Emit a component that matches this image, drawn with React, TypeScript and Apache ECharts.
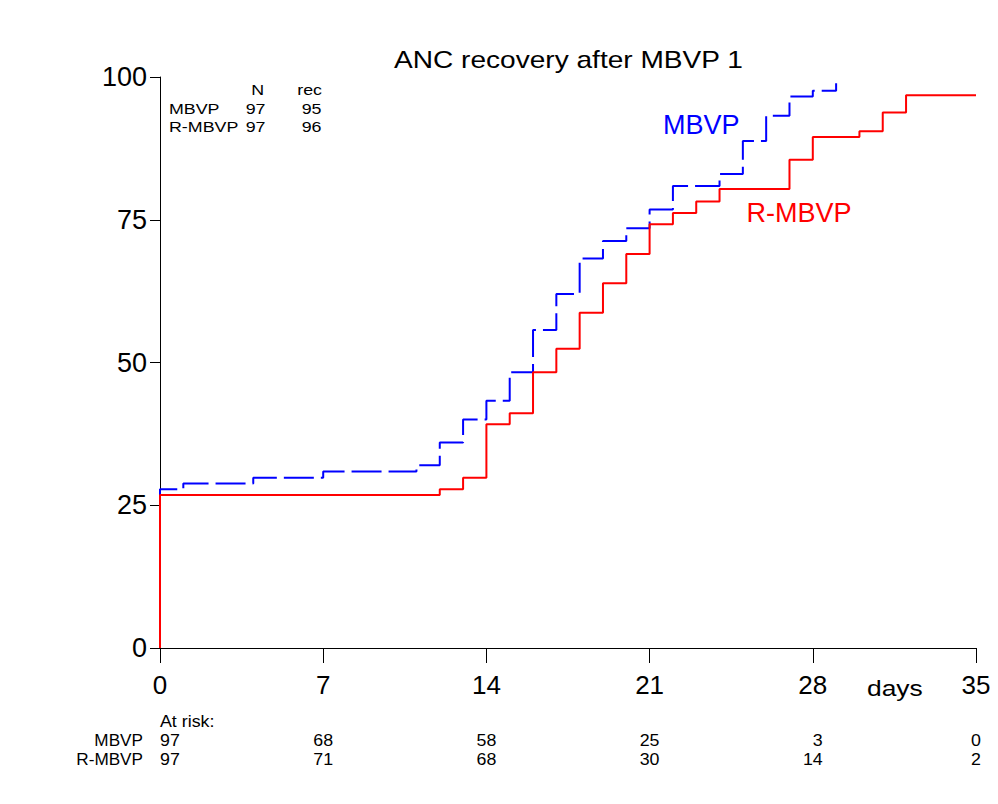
import React, { useEffect, useRef } from "react";
import * as echarts from "echarts";

// MBVP (blue, dashed) Kaplan-Meier style cumulative recovery (%)
const mbvpTimes = [0, 0, 1, 4, 7, 11, 12, 13, 14, 15, 16, 17, 18, 19, 20, 21, 22, 24, 25, 26, 27, 28, 29];
const mbvpValues = [0, 27.8, 28.8, 29.8, 30.9, 32.0, 36.0, 40.0, 43.3, 48.3, 55.7, 62.0, 68.2, 71.3, 73.5, 76.8, 80.9, 83.0, 88.8, 93.2, 96.6, 97.6, 98.9];

// R-MBVP (red, solid)
const rmbvpTimes = [0, 0, 12, 13, 14, 15, 16, 17, 18, 19, 20, 21, 22, 23, 24, 27, 28, 30, 31, 32, 35];
const rmbvpValues = [0, 26.8, 27.8, 29.8, 39.2, 41.1, 48.3, 52.4, 58.7, 63.9, 69.0, 74.2, 76.2, 78.2, 80.4, 85.5, 89.5, 90.5, 93.8, 96.8, 96.8];

// Tick definitions
const xTicks = [0, 7, 14, 21, 28, 35];
const yTicks = [0, 25, 50, 75, 100];

// Summary table (N, recovered)
const groups = ["MBVP", "R-MBVP"];
const groupN = [97, 97];
const groupRec = [95, 96];

// Number at risk
const atRiskDays = [0, 7, 14, 21, 28, 35];
const mbvpAtRisk = [97, 68, 58, 25, 3, 0];
const rmbvpAtRisk = [97, 71, 68, 30, 14, 2];

const FONT = "'Liberation Sans', Arial, Helvetica, sans-serif";
const BLUE = "#0000ff";
const RED = "#ff0000";

function txt(text: string, x: number, y: number, size: number, align: string, color = "#000", scaleX = 1) {
  return {
    type: "text",
    x,
    y,
    scaleX,
    silent: true,
    style: {
      text,
      fill: color,
      fontSize: size,
      fontFamily: FONT,
      align,
      verticalAlign: "middle",
      textAlign: align,
      textVerticalAlign: "middle",
    },
  };
}

export default function App() {
  const ref = useRef<HTMLDivElement>(null);

  useEffect(() => {
    if (!ref.current) return;
    const chart = echarts.init(ref.current, undefined, { renderer: "svg" });
    const zip = (t: number[], v: number[]) => t.map((d, i) => [d, v[i]]);

    chart.setOption({
      animation: false,
      backgroundColor: "#ffffff",
      grid: { left: 160, right: 22, top: 77, bottom: 156, containLabel: false, outerBoundsMode: "none" },
      xAxis: {
        type: "value",
        min: xTicks[0],
        max: xTicks[xTicks.length - 1],
        interval: 7,
        axisLine: { show: true, onZero: false, lineStyle: { color: "#000", width: 1 } },
        axisTick: { show: true, length: 15, lineStyle: { color: "#000", width: 1 } },
        axisLabel: { color: "#000", fontSize: 26, fontFamily: FONT, margin: 24, showMinLabel: true, showMaxLabel: true },
        splitLine: { show: false },
      },
      yAxis: {
        type: "value",
        min: yTicks[0],
        max: yTicks[yTicks.length - 1],
        interval: 25,
        axisLine: { show: true, onZero: false, lineStyle: { color: "#000", width: 1 } },
        axisTick: { show: true, length: 10, lineStyle: { color: "#000", width: 1 } },
        axisLabel: { color: "#000", fontSize: 27, fontFamily: FONT, margin: 13 },
        splitLine: { show: false },
      },
      series: [
        {
          name: "MBVP",
          type: "line",
          step: "end",
          data: zip(mbvpTimes, mbvpValues),
          symbol: "none",
          showSymbol: false,
          clip: false,
          z: 2,
          lineStyle: { color: BLUE, width: 2, type: [30, 7], dashOffset: 2 },
        },
        {
          name: "R-MBVP",
          type: "line",
          step: "end",
          data: zip(rmbvpTimes, rmbvpValues),
          symbol: "none",
          showSymbol: false,
          clip: false,
          z: 3,
          lineStyle: { color: RED, width: 2, type: "solid" },
        },
      ],
    });

    const fsRisk = 16.5;
    const digitW = 0.556 * fsRisk;
    const riskY0 = 721;
    const riskRows = [mbvpAtRisk, rmbvpAtRisk];
    const riskRowY = [740.5, 759.5];
    const graphics: any[] = [];

    graphics.push(txt("ANC recovery after MBVP 1", 394, 60, 24, "left", "#000", 1.17));
    graphics.push(txt("days", 867, 688, 22, "left", "#000", 1.2));

    // summary table
    const tScale = 1.15;
    graphics.push(txt("N", 264, 90, 15.5, "right", "#000", tScale));
    graphics.push(txt("rec", 322, 90, 15.5, "right", "#000", tScale));
    const tableY = [109, 127];
    groups.forEach((g, i) => {
      graphics.push(txt(g, 169, tableY[i], 15.5, "left", "#000", tScale));
      graphics.push(txt(String(groupN[i]), 265.5, tableY[i], 15.5, "right", "#000", tScale));
      graphics.push(txt(String(groupRec[i]), 321.5, tableY[i], 15.5, "right", "#000", tScale));
    });

    // curve labels
    graphics.push(txt("MBVP", 663, 124, 28, "left", BLUE, 0.965));
    graphics.push(txt("R-MBVP", 746.5, 212, 28, "left", RED, 0.965));

    // at-risk table
    graphics.push(txt("At risk:", 160, riskY0, fsRisk, "left", "#000", 1.08));
    groups.forEach((g, r) => {
      graphics.push(txt(g, 143, riskRowY[r], fsRisk, "right", "#000", 1.04));
    });
    atRiskDays.forEach((d, c) => {
      const px = chart.convertToPixel({ xAxisIndex: 0 }, d) as number;
      const maxChars = Math.max(...riskRows.map((row) => String(row[c]).length));
      riskRows.forEach((row, r) => {
        if (c === 0) {
          graphics.push(txt(String(row[c]), px, riskRowY[r], fsRisk, "left", "#000", 1.08));
        } else {
          graphics.push(
            txt(String(row[c]), px + (maxChars * digitW * 1.08) / 2, riskRowY[r], fsRisk, "right", "#000", 1.08)
          );
        }
      });
    });

    chart.setOption({ graphic: graphics });

    return () => chart.dispose();
  }, []);

  return (
    <div
      ref={ref}
      style={{ position: "fixed", left: 0, top: 0, width: 998, height: 804, background: "#fff" }}
    />
  );
}
